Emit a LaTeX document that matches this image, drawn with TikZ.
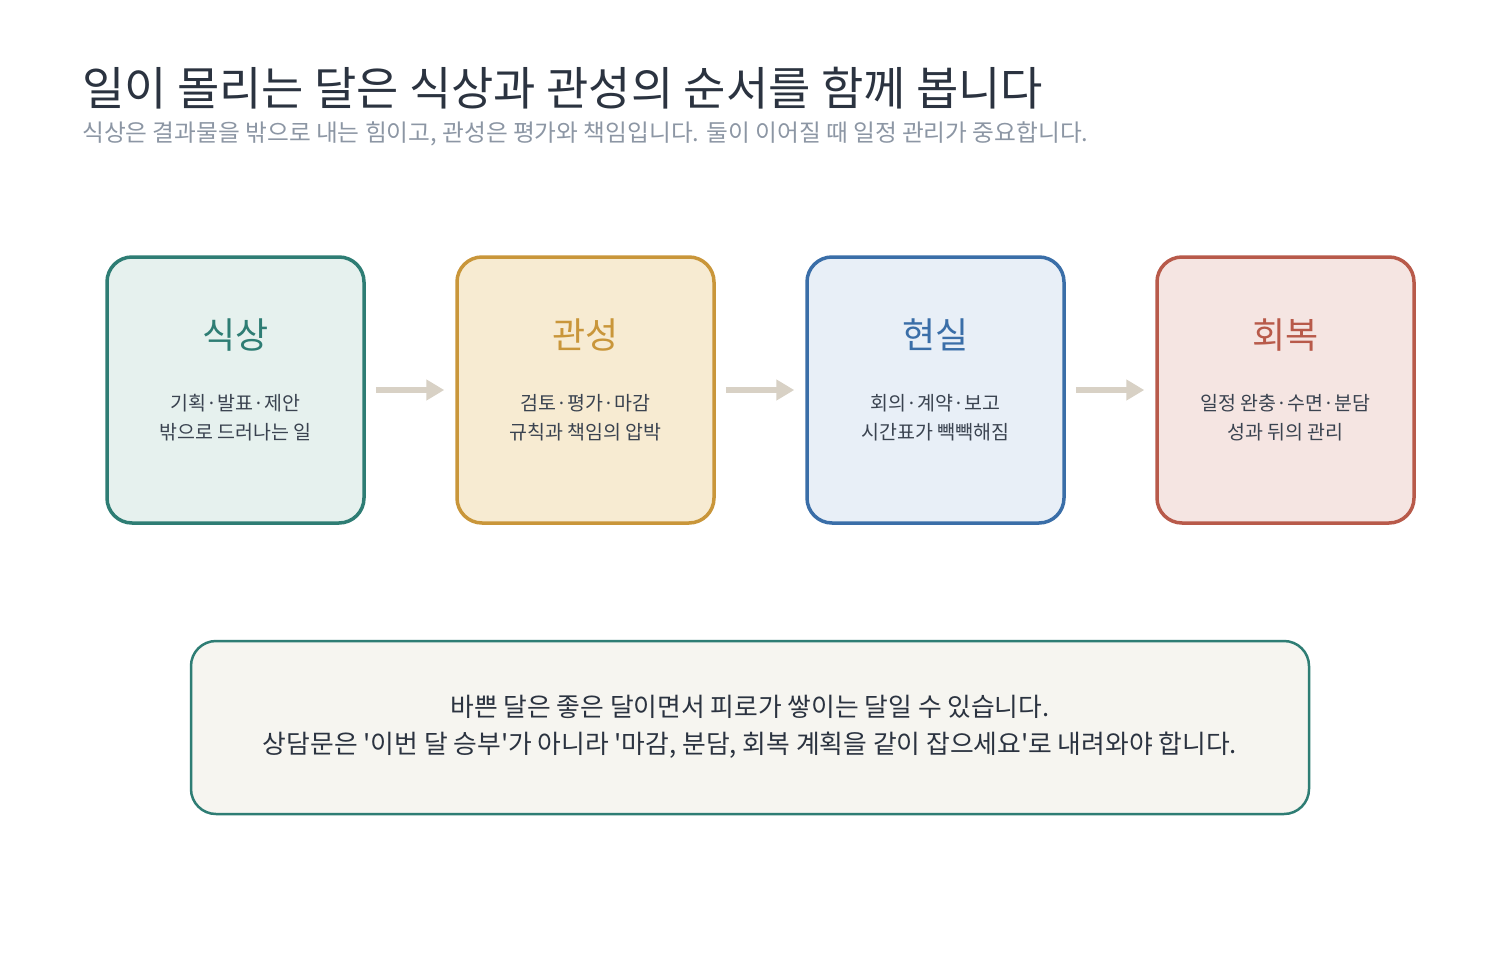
\documentclass[tikz,border=0pt]{standalone}
\usepackage{fontspec}
\setmainfont{Noto Sans CJK KR}
\newfontfamily\krplain{Noto Sans CJK KR}
\usetikzlibrary{arrows.meta}
\definecolor{titlec}{HTML}{2B3340}
\definecolor{subc}{HTML}{8C96A4}
\definecolor{bodyc}{HTML}{3A4350}
\definecolor{tealc}{HTML}{2E7D74}
\definecolor{tealf}{HTML}{E6F1EE}
\definecolor{goldc}{HTML}{C9963A}
\definecolor{goldf}{HTML}{F7EBD2}
\definecolor{bluec}{HTML}{3A6EA8}
\definecolor{bluef}{HTML}{E8EFF7}
\definecolor{redc}{HTML}{B85A4A}
\definecolor{redf}{HTML}{F5E5E2}
\definecolor{arrc}{HTML}{D8D1C5}
\definecolor{notef}{HTML}{F6F5F0}
\tikzset{
  stagebox/.style={draw=#1, line width=3.5pt, rounded corners=25pt,
    minimum width=257pt, minimum height=266pt, inner sep=0pt},
  stagetitle/.style={text=#1, font=\fontsize{36}{40}\selectfont, inner sep=0pt},
  stagebody/.style={text=bodyc, font=\fontsize{19.5}{29}\selectfont, align=center, inner sep=0pt},
  flow/.style={draw=arrc, line width=6pt, -{Triangle[length=18pt,width=20pt]},
    shorten <=10pt, shorten >=11pt},
}
\begin{document}
\begin{tikzpicture}[x=1pt,y=-1pt]
\useasboundingbox[fill=white] (0,0) rectangle (1500,980);
\node[anchor=base west, inner sep=0pt, text=titlec, font=\fontsize{46}{50}\selectfont] (title) at (82,105) {일이 몰리는 달은 식상과 관성의 순서를 함께 봅니다};
\node[anchor=base west, inner sep=0pt, text=subc, font=\fontsize{23.7}{26}\selectfont] (subtitle) at (82,141) {식상은 결과물을 밖으로 내는 힘이고, 관성은 평가와 책임입니다. 둘이 이어질 때 일정 관리가 중요합니다.};

\node[stagebox=tealc, fill=tealf] (b1) at (235.5,390) {};
\node[stagebox=goldc, fill=goldf] (b2) at (585.5,390) {};
\node[stagebox=bluec, fill=bluef] (b3) at (935.5,390) {};
\node[stagebox=redc, fill=redf] (b4) at (1285.5,390) {};

\node[stagetitle=tealc] (t1) at (235.5,335) {식상};
\node[stagetitle=goldc] (t2) at (585.5,335) {관성};
\node[stagetitle=bluec] (t3) at (935.5,335) {현실};
\node[stagetitle=redc] (t4) at (1285.5,335) {회복};

\node[stagebody] (s1) at (235.5,418) {기획·발표·제안\\밖으로 드러나는 일};
\node[stagebody] (s2) at (585.5,418) {검토·평가·마감\\규칙과 책임의 압박};
\node[stagebody] (s3) at (935.5,418) {회의·계약·보고\\시간표가 빽빽해짐};
\node[stagebody] (s4) at (1285.5,418) {일정 완충·수면·분담\\성과 뒤의 관리};

\draw[flow] (b1.east) -- (b2.west);
\draw[flow] (b2.east) -- (b3.west);
\draw[flow] (b3.east) -- (b4.west);

\node[draw=tealc, line width=2.5pt, fill=notef, rounded corners=25pt,
  minimum width=1118pt, minimum height=173pt] (note) at (750,727.5) {};
\node[text=titlec, font=\krplain\fontsize{25.8}{37}\selectfont, align=center, inner sep=0pt] (notetext) at (750,727) {바쁜 달은 좋은 달이면서 피로가 쌓이는 달일 수 있습니다.\\상담문은 '이번 달 승부'가 아니라 '마감, 분담, 회복 계획을 같이 잡으세요'로 내려와야 합니다.};
\end{tikzpicture}
\end{document}
